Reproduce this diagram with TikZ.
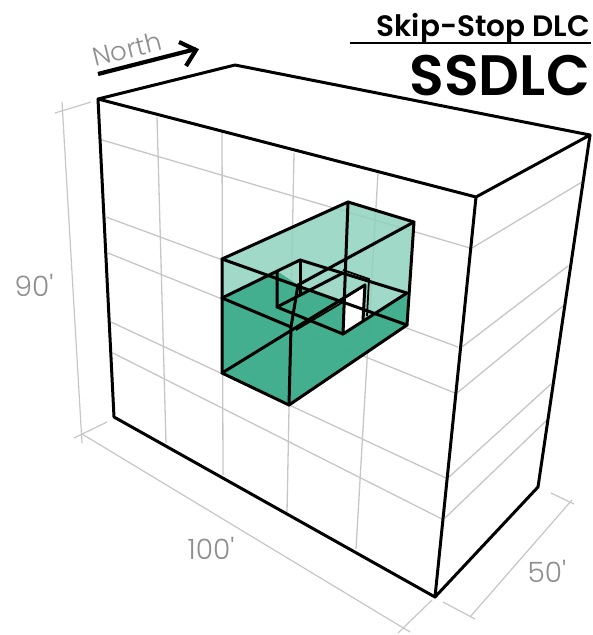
\documentclass[tikz,border=0pt]{standalone}
\usepackage{fontspec}
\setmainfont{Poppins}
\newfontfamily\lightf{Poppins Light}
\newfontfamily\semif{Poppins SemiBold}
\definecolor{gridc}{HTML}{C6C6C6}
\definecolor{dimtxt}{HTML}{8E8E8E}
\definecolor{tealL}{HTML}{8FD2BE}
\definecolor{tealD}{HTML}{3AAB88}
\tikzset{
  gridline/.style={draw=gridc,line width=1.3pt},
  dimline/.style={draw=gridc,line width=1.2pt},
  edge3/.style={draw=black,line width=3pt,line join=round,line cap=round},
  edge1/.style={draw=black,line width=1.8pt},
  dimlabel/.style={text=dimtxt,font=\lightf\fontsize{28}{28}\selectfont,inner sep=0pt,anchor=center}
}
\begin{document}
\begin{tikzpicture}[x=1pt,y=-1pt]
\useasboundingbox (0,0) rectangle (593,635);
% box corners
\coordinate (A) at (98,99);
\coordinate (B) at (235,65);
\coordinate (C) at (590,135);
\coordinate (D) at (476,197);
\coordinate (E) at (435,597);
\coordinate (F) at (114,417);
\coordinate (G) at (538,487);
% grid front
\draw[gridline] (157,117)--(166,443);
\draw[gridline] (222,133)--(223,475);
\draw[gridline] (294,153)--(287,512);
\draw[gridline] (378,173)--(356,549);
\draw[gridline] (102,140)--(470,248);
\draw[gridline] (106,217)--(458,347);
\draw[gridline] (108,253)--(455,393);
\draw[gridline] (111,322)--(446,478);
\draw[gridline] (113,353)--(442,519);
% grid right
\draw[gridline] (472,248)--(582,182);
\draw[gridline] (462,347)--(568,266);
\draw[gridline] (457,393)--(563,306);
\draw[gridline] (449,477)--(551,384);
\draw[gridline] (445,518)--(547,420);
% dims
\draw[dimline] (62,102)--(82,443);
\draw[dimline] (55,113)--(91,102);
\draw[dimline] (74,438)--(107,422);
\draw[dimline] (82,434)--(410,632);
\draw[dimline] (398,633)--(432,600);
\draw[dimline] (443,602)--(475,619);
\draw[dimline] (470,617)--(572,500);
\draw[dimline] (551,493)--(574,504);
% teal points
\coordinate (a) at (222,259);
\coordinate (b) at (348,202);
\coordinate (c) at (414,222);
\coordinate (d) at (298,285);
\coordinate (f) at (289,405);
\coordinate (g) at (222,373);
\coordinate (h) at (407,325);
\coordinate (p1) at (222,298);
\coordinate (p2) at (300,260);
\coordinate (p3) at (407,293);
\coordinate (p4) at (291,327);
\coordinate (q) at (343,334);
\coordinate (t1) at (277,271);
\coordinate (b1) at (277,307);
\coordinate (b2) at (300,295);
\coordinate (w) at (365,285);
% fills
\fill[tealL,fill opacity=.85] (a)--(b)--(c)--(h)--(f)--(g)--cycle;
\fill[tealD,fill opacity=.9] (p1)--(t1)--(d)--(343,303)--(q)--(p3)--(h)--(f)--(g)--cycle;
\fill[white] (345,297)--(w)--(363,320)--(345,332)--cycle;
% teal lines
\draw[edge3] (a)--(b)--(c)--(h)--(f)--(g)--cycle;
\draw[edge3] (b)--(q)--(p3);
\draw[edge3] (c)--(d);
\draw[edge3] (a)--(h);
\draw[edge3] (d)--(p4)--(f);
\draw[edge3] (p1)--(p2)--(p3);
\draw[edge3] (p1)--(p4);
\draw[edge3] (t1)--(b1)--(q);
\draw[edge3] (p2)--(b2);
\draw[edge3] (b1)--(343,273);
\draw[edge3] (g)--(w)--(363,320);
\draw[edge1] (296,330)--(343,302);
\draw[edge1] (343,270)--(369,279)--(367,316);
% main box
\draw[edge3] (A)--(B)--(C)--(D)--cycle;
\draw[edge3] (A)--(F)--(E)--(D);
\draw[edge3] (E)--(G)--(C);
% title
\node[inner sep=0pt,anchor=base east,font=\semif\fontsize{29.5}{30}\selectfont] (title) at (590,36) {Skip-Stop DLC};
\draw[draw=black,line width=2.4pt] (350,43)--(591,43);
\node[inner sep=0pt,anchor=base east,font=\semif\fontsize{57}{58}\selectfont] (ssdlc) at (590,95) {SSDLC};
% north
\node[dimlabel,rotate=14,font=\lightf\fontsize{26}{26}\selectfont] (north) at (127,49) {North};
\draw[draw=black,line width=4.2pt] (98,74)--(196,49);
\draw[draw=black,line width=4.2pt,line join=miter] (179,42)--(196,50)--(186,66);
% dim labels
\node[dimlabel] (l90) at (34,285) {90'};
\node[dimlabel] (l100) at (211,548) {100'};
\node[dimlabel] (l50) at (547,571) {50'};
\end{tikzpicture}
\end{document}
